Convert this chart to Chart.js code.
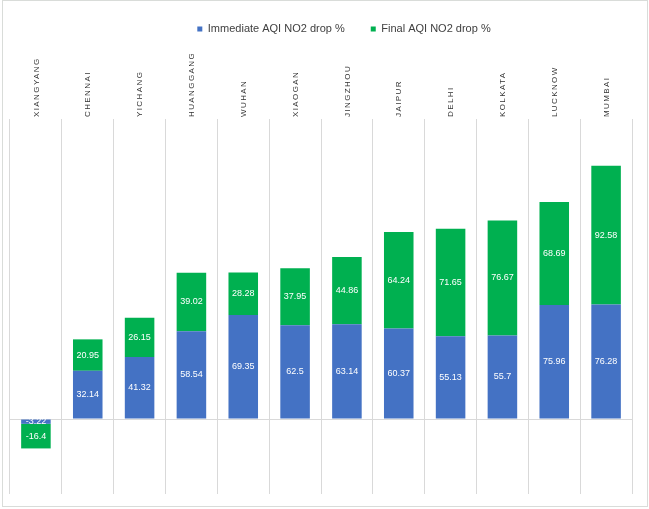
<!DOCTYPE html>
<html>
<head>
<meta charset="utf-8">
<script src="https://cdn.jsdelivr.net/npm/chart.js@4/dist/chart.umd.min.js"></script>
<style>
  html, body { margin: 0; padding: 0; background: #ffffff; }
  #wrap { position: relative; width: 649px; height: 509px; }
  #frame { position: absolute; left: 2px; top: 0px; width: 644px; height: 505px; border: 1px solid #d9dcd9; pointer-events: none; }
  canvas { position: absolute; left: 0; top: 0; }
</style>
</head>
<body>
<div id="wrap">
  <canvas id="c" width="649" height="509"></canvas>
  <div id="frame"></div>
</div>
<script>
const categories = ["XIANGYANG", "CHENNAI", "YICHANG", "HUANGGANG", "WUHAN", "XIAOGAN", "JINGZHOU", "JAIPUR", "DELHI", "KOLKATA", "LUCKNOW", "MUMBAI"];
const immediateDrop = [-3.22, 32.14, 41.32, 58.54, 69.35, 62.5, 63.14, 60.37, 55.13, 55.7, 75.96, 76.28];
const finalDrop = [-16.4, 20.95, 26.15, 39.02, 28.28, 37.95, 44.86, 64.24, 71.65, 76.67, 68.69, 92.58];
const seriesNames = ["Immediate AQI NO2 drop %", "Final AQI NO2 drop %"];

const FONT = "'Liberation Sans', Arial, sans-serif";

const helperPlugin = {
  id: 'helper',
  beforeDraw(chart) {
    chart.ctx.letterSpacing = '0px';
  },
  afterLayout(chart) {
    const lg = chart.legend;
    if (lg) {
      const dx = 23;
      lg.left += dx; lg.right += dx;
      const h = lg.bottom - lg.top;
      lg.top = -2.5; lg.bottom = lg.top + h;
    }
  },
  afterDatasetsDraw(chart) {
    const ctx = chart.ctx;
    ctx.save();
    ctx.letterSpacing = '0px';
    ctx.font = '9px ' + FONT;
    ctx.fillStyle = '#ffffff';
    ctx.textAlign = 'center';
    ctx.textBaseline = 'middle';
    chart.data.datasets.forEach((ds, di) => {
      const meta = chart.getDatasetMeta(di);
      meta.data.forEach((bar, i) => {
        const v = ds.data[i];
        const yc = (bar.y + bar.base) / 2;
        ctx.fillText(String(v), bar.x, yc);
      });
    });
    ctx.restore();
    ctx.letterSpacing = '1.4px';
  },
  afterDraw(chart) {
    chart.ctx.letterSpacing = '0px';
  }
};

new Chart(document.getElementById('c'), {
  type: 'bar',
  data: {
    labels: categories,
    datasets: [
      { label: seriesNames[0], data: immediateDrop, backgroundColor: '#4472C4', borderWidth: 0 },
      { label: seriesNames[1], data: finalDrop, backgroundColor: '#00B050', borderWidth: 0 }
    ]
  },
  options: {
    responsive: false,
    animation: false,
    devicePixelRatio: 1,
    categoryPercentage: 1.0,
    barPercentage: 0.57,
    layout: { padding: { top: 0, left: 10, right: 17, bottom: 15 } },
    plugins: {
      legend: {
        position: 'top',
        labels: {
          boxWidth: 5,
          boxHeight: 5,
          padding: 26,
          color: '#404040',
          font: { family: FONT, size: 11 }
        }
      },
      tooltip: { enabled: false }
    },
    scales: {
      x: {
        position: 'top',
        stacked: true,
        offset: true,
        afterFit(scale) { scale.height = 72; },
        grid: { display: true, offset: true, color: '#d9d9d9', lineWidth: 1, drawTicks: false },
        border: { display: false },
        ticks: {
          z: 1,
          autoSkip: false,
          minRotation: 90,
          maxRotation: 90,
          padding: 2,
          labelOffset: 10,
          color: '#333333',
          font: { family: FONT, size: 8 }
        }
      },
      y: {
        stacked: true,
        min: -50,
        max: 200,
        afterFit(scale) { scale.width = 0; },
        grid: {
          drawTicks: false,
          color: (c) => (c.tick && c.tick.value === 0) ? '#d9d9d9' : 'rgba(0,0,0,0)',
          lineWidth: 1
        },
        border: { display: false },
        ticks: { display: false, stepSize: 50 }
      }
    }
  },
  plugins: [helperPlugin]
});
</script>
</body>
</html>
